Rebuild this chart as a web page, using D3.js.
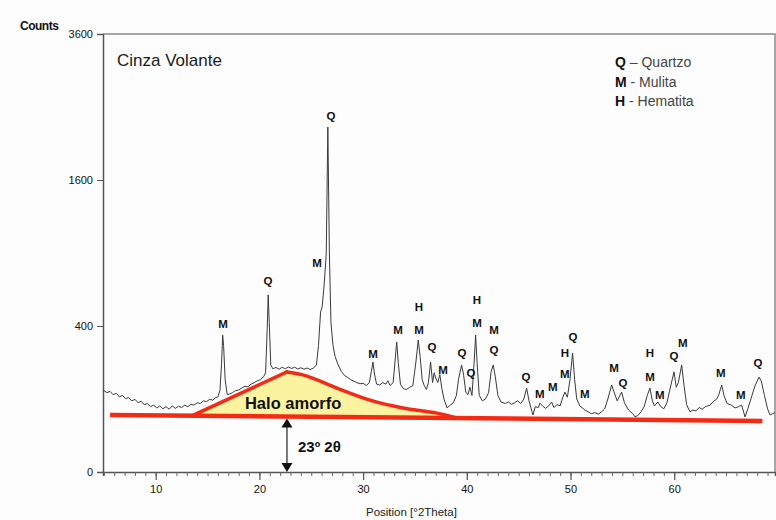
<!DOCTYPE html>
<html>
<head>
<meta charset="utf-8">
<script src="https://cdn.jsdelivr.net/npm/d3@7"></script>
<style>
  body { margin: 0; background: #fdfdfd; }
  svg { display: block; font-family: "Liberation Sans", Arial, sans-serif; }
  .tick text { fill: #111; font-size: 11px; }
  .peak { font-weight: bold; font-size: 11.5px; fill: #111; text-anchor: middle; }
</style>
</head>
<body>
<svg id="chart" width="776" height="520"></svg>
<script>
// diffractogram: [2theta, counts]
const pattern = [
  [4.95,126],[5.3,118],[5.6,122],[5.9,112],[6.2,116],[6.5,106],[6.8,110],[7.1,101],[7.4,104],[7.7,95],
  [8.0,99],[8.3,90],[8.6,94],[8.9,85],[9.2,88],[9.5,80],[9.8,84],[10.1,77],[10.4,82],[10.7,75],
  [11.0,80],[11.3,74],[11.6,82],[11.9,76],[12.2,81],[12.5,78],[12.8,84],[13.1,80],[13.4,86],[13.7,84],
  [14.0,90],[14.3,88],[14.6,95],[14.9,93],[15.2,99],[15.5,97],[15.8,104],[16.0,106],[16.2,125],[16.35,220],
  [16.46,352],[16.55,300],[16.7,160],[16.9,112],[17.1,114],[17.4,118],[17.7,124],[18.0,126],[18.3,132],[18.6,138],
  [18.9,136],[19.2,145],[19.5,150],[19.8,156],[20.1,160],[20.4,170],[20.6,185],[20.75,380],[20.85,588],[20.95,420],
  [21.1,215],[21.3,200],[21.6,205],[21.9,198],[22.2,206],[22.5,200],[22.8,207],[23.1,201],[23.4,206],[23.7,199],
  [24.0,204],[24.3,198],[24.6,203],[24.9,197],[25.2,202],[25.5,215],[25.7,300],[25.9,480],[26.05,511],[26.2,620],
  [26.3,714],[26.45,900],[26.6,2234],[26.75,900],[26.9,420],[27.1,300],[27.3,250],[27.6,215],[27.9,190],[28.2,175],
  [28.5,168],[28.8,160],[29.1,155],[29.4,150],[29.7,146],[30.0,148],[30.3,140],[30.6,150],[30.8,190],[30.95,227],
  [31.1,180],[31.3,145],[31.6,142],[31.9,150],[32.2,145],[32.4,156],[32.6,140],[32.9,150],[33.1,240],[33.24,317],
  [33.4,220],[33.6,145],[33.9,130],[34.2,128],[34.5,135],[34.8,140],[35.1,230],[35.32,327],[35.5,250],[35.7,160],
  [35.9,140],[36.1,128],[36.3,150],[36.51,227],[36.7,150],[36.85,185],[37.0,166],[37.2,150],[37.4,178],[37.6,130],
  [37.8,100],[38.1,77],[38.4,84],[38.7,90],[39.0,110],[39.2,160],[39.5,215],[39.7,175],[39.9,120],[40.1,112],
  [40.3,135],[40.5,110],[40.7,220],[40.85,352],[41.0,220],[41.2,110],[41.5,95],[41.8,100],[42.1,118],[42.35,190],
  [42.55,215],[42.75,170],[43.0,110],[43.3,92],[43.7,88],[44.0,92],[44.3,86],[44.6,90],[44.9,95],[45.2,88],
  [45.5,100],[45.77,132],[46.0,95],[46.38,61],[46.6,80],[46.9,78],[47.05,89],[47.3,82],[47.6,76],[47.9,82],
  [48.18,92],[48.4,78],[48.7,85],[49.0,82],[49.2,100],[49.46,120],[49.7,105],[49.95,160],[50.2,266],[50.4,160],
  [50.6,100],[50.9,82],[51.39,72],[51.7,68],[52.0,64],[52.36,66],[52.7,63],[53.0,68],[53.3,75],[53.6,100],
  [53.97,142],[54.2,120],[54.5,95],[54.93,120],[55.2,90],[55.6,72],[56.0,64],[56.22,57],[56.5,60],[56.8,68],
  [57.1,80],[57.4,110],[57.66,132],[57.9,95],[58.1,82],[58.43,92],[58.7,80],[59.0,75],[59.3,90],[59.6,130],
  [59.98,188],[60.2,135],[60.4,150],[60.72,215],[60.95,140],[61.2,85],[61.52,68],[61.8,72],[62.1,70],[62.4,78],
  [62.7,74],[63.0,80],[63.45,84],[63.8,94],[64.1,100],[64.3,112],[64.58,142],[64.8,110],[65.1,88],[65.5,84],
  [65.86,77],[66.2,80],[66.5,84],[66.83,57],[67.1,75],[67.5,110],[67.8,140],[68.18,169],[68.4,155],[68.7,110],
  [69.0,75],[69.24,61],[69.5,64],[69.72,66]
];

// red base line and amorphous halo top (rising edge straight, falling edge curved)
const baseLine = [[5.6,61],[68.5,49]];
const haloRise = [[13.59,60],[22.66,188]];
const haloFall = [[22.66,188],[24.2,177],[27.47,132],[30.66,97],[33.84,77],[37.12,65],[39.05,55]];

// phase labels: [2theta, counts, letter]
const peakLabels = [
  [16.49,389,"M"],[20.82,656,"Q"],[25.55,789,"M"],[26.90,2325,"Q"],[30.95,244,"M"],
  [33.36,357,"M"],[35.39,486,"H"],[35.39,357,"M"],[36.64,275,"Q"],[37.70,180,"M"],
  [39.54,248,"Q"],[40.40,169,"Q"],[40.98,530,"H"],[40.98,395,"M"],[42.62,357,"M"],
  [42.62,261,"Q"],[45.70,155,"Q"],[47.05,103,"M"],[48.30,123,"M"],[49.46,166,"M"],
  [49.46,248,"H"],[50.23,322,"Q"],[51.39,103,"M"],[54.19,188,"M"],[55.06,136,"Q"],
  [57.66,248,"H"],[57.66,155,"M"],[58.62,100,"M"],[59.97,235,"Q"],[60.84,293,"M"],
  [64.50,169,"M"],[66.43,100,"M"],[68.07,207,"Q"]
];

const legend = [["Q","– Quartzo"],["M","- Mulita"],["H","- Hematita"]];
const yTicks = [0, 400, 1600, 3600];
const xMajor = [10, 20, 30, 40, 50, 60];
const xMinor = d3.range(5, 70, 1);
const haloPos = [23.25, 74];     // text "Halo amorfo"
const arrowX = 22.66;

const svg = d3.select("#chart");
const x = d3.scaleLinear().domain([4.92, 69.72]).range([103, 775]);
const y = d3.scaleSqrt().domain([0, 3600]).range([472, 34]);

// frame top + right
svg.append("path")
  .attr("d", `M${x.range()[0]},${y(3600)}H${x.range()[1]}V${y(0)}`)
  .attr("fill", "none").attr("stroke", "#8a8a8a").attr("stroke-width", 1.5);

// axes
const yAxis = svg.append("g").attr("transform", `translate(${x.range()[0]},0)`)
  .call(d3.axisLeft(y).tickValues(yTicks).tickSize(6).tickPadding(4).tickFormat(d3.format("d")));
yAxis.select(".domain").attr("stroke", "#555").attr("stroke-width", 1.5);
yAxis.selectAll(".tick line").attr("stroke", "#555");

const xMin = svg.append("g").attr("transform", `translate(0,${y(0)})`)
  .call(d3.axisBottom(x).tickValues(xMinor).tickSize(4).tickFormat(""));
xMin.select(".domain").attr("stroke", "#555").attr("stroke-width", 1.5);
xMin.selectAll(".tick line").attr("stroke", "#666");
const xMaj = svg.append("g").attr("transform", `translate(0,${y(0)})`)
  .call(d3.axisBottom(x).tickValues(xMajor).tickSize(8).tickPadding(5));
xMaj.select(".domain").remove();
xMaj.selectAll(".tick line").attr("stroke", "#555").attr("stroke-width", 1.2);

svg.append("text").attr("x", 20).attr("y", 30).attr("font-size", 12)
  .attr("fill", "#111").attr("font-weight", "bold").attr("letter-spacing", -0.5).text("Counts");
svg.append("text").attr("x", 366).attr("y", 516).attr("font-size", 11.5)
  .attr("fill", "#222").text("Position [°2Theta]");

// halo shape: straight rise, curved fall, closed on the base line
const fallLine = d3.line().curve(d3.curveMonotoneX).x(d => x(d[0])).y(d => y(d[1]));
const fallPath = fallLine(haloFall);
const r0 = haloRise[0], last = haloFall[haloFall.length - 1];
svg.append("path")
  .attr("d", `M${x(r0[0])},${y(r0[1])}L${x(haloRise[1][0])},${y(haloRise[1][1])}` +
    fallPath.replace(/^M[^CL]*/, "") + `L${x(last[0])},${y(54)}Z`)
  .attr("fill", "#fbf3a0").attr("stroke", "none");

// diffractogram
svg.append("path")
  .attr("d", d3.line().x(d => x(d[0])).y(d => y(d[1]))(pattern))
  .attr("fill", "none").attr("stroke", "#3a3a3a").attr("stroke-width", 1)
  .attr("stroke-linejoin", "round");

svg.append("path")
  .attr("d", d3.line().x(d => x(d[0])).y(d => y(d[1]))(haloRise))
  .attr("fill", "none").attr("stroke", "#f52a14").attr("stroke-width", 3.5)
  .attr("stroke-linecap", "round");
svg.append("path")
  .attr("d", fallPath)
  .attr("fill", "none").attr("stroke", "#f52a14").attr("stroke-width", 3.5)
  .attr("stroke-linecap", "round");
svg.append("path")
  .attr("d", d3.line().x(d => x(d[0])).y(d => y(d[1]))(baseLine))
  .attr("fill", "none").attr("stroke", "#f52a14").attr("stroke-width", 4.5);

svg.append("text").attr("x", x(haloPos[0])).attr("y", y(haloPos[1]))
  .attr("text-anchor", "middle").attr("font-size", 16.5).attr("font-weight", "bold")
  .attr("fill", "#111").text("Halo amorfo");

// double arrow
const ax = x(arrowX), aTop = y(58) + 2, aBot = y(0);
svg.append("line").attr("x1", ax).attr("x2", ax).attr("y1", aTop + 6).attr("y2", aBot - 6)
  .attr("stroke", "#222").attr("stroke-width", 1.2);
svg.append("path").attr("d", `M${ax},${aTop}l-5.5,9h11z`).attr("fill", "#111");
svg.append("path").attr("d", `M${ax},${aBot}l-5.5,-9h11z`).attr("fill", "#111");
svg.append("text").attr("x", ax + 11).attr("y", 452).attr("font-size", 15)
  .attr("font-weight", "bold").attr("fill", "#111").text("23º 2θ");

// title + legend
svg.append("text").attr("x", 117).attr("y", 66).attr("font-size", 17)
  .attr("fill", "#1a1a1a").text("Cinza Volante");
const lg = svg.append("g").attr("transform", "translate(615,67)");
legend.forEach((d, i) => {
  const t = lg.append("text").attr("y", i * 19.5).attr("font-size", 14).attr("fill", "#444");
  t.append("tspan").attr("font-weight", "bold").attr("fill", "#111").text(d[0]);
  t.append("tspan").text(" " + d[1]);
});

svg.append("g").selectAll("text").data(peakLabels).join("text")
  .attr("class", "peak")
  .attr("x", d => x(d[0])).attr("y", d => y(d[1]))
  .text(d => d[2]);
</script>
</body>
</html>
